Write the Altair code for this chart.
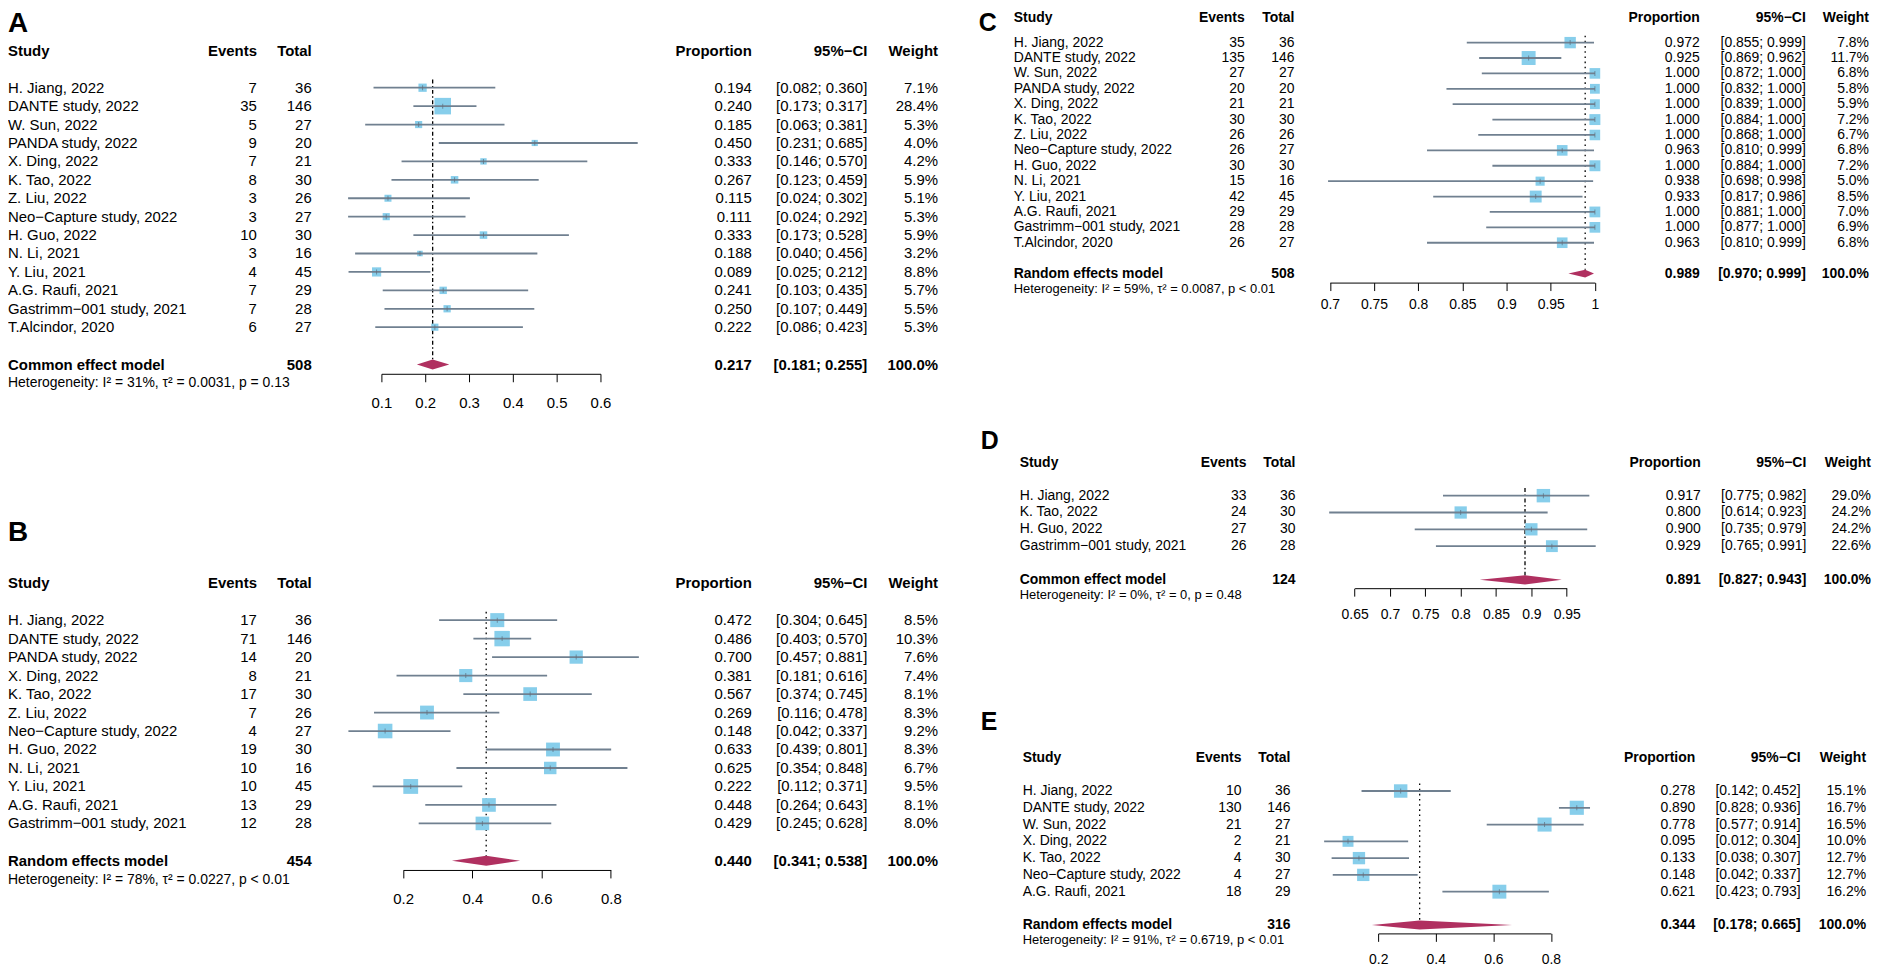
import altair as alt
import pandas as pd

# ---------------- data ----------------
# Panel A
studies_A = ["H. Jiang, 2022", "DANTE study, 2022", "W. Sun, 2022", "PANDA study, 2022",
             "X. Ding, 2022", "K. Tao, 2022", "Z. Liu, 2022", "Neo−Capture study, 2022",
             "H. Guo, 2022", "N. Li, 2021", "Y. Liu, 2021", "A.G. Raufi, 2021",
             "Gastrimm−001 study, 2021", "T.Alcindor, 2020"]
events_A = [7, 35, 5, 9, 7, 8, 3, 3, 10, 3, 4, 7, 7, 6]
total_A = [36, 146, 27, 20, 21, 30, 26, 27, 30, 16, 45, 29, 28, 27]
prop_A = [0.194, 0.240, 0.185, 0.450, 0.333, 0.267, 0.115, 0.111, 0.333, 0.188, 0.089, 0.241, 0.250, 0.222]
lo_A = [0.082, 0.173, 0.063, 0.231, 0.146, 0.123, 0.024, 0.024, 0.173, 0.040, 0.025, 0.103, 0.107, 0.086]
hi_A = [0.360, 0.317, 0.381, 0.685, 0.570, 0.459, 0.302, 0.292, 0.528, 0.456, 0.212, 0.435, 0.449, 0.423]
weight_A = [7.1, 28.4, 5.3, 4.0, 4.2, 5.9, 5.1, 5.3, 5.9, 3.2, 8.8, 5.7, 5.5, 5.3]
summary_A = ["Common effect model", 508, 0.217, 0.181, 0.255]
het_A = "Heterogeneity: I² = 31%, τ² = 0.0031, p = 0.13"
ticks_A = [0.1, 0.2, 0.3, 0.4, 0.5, 0.6]

# Panel B
studies_B = ["H. Jiang, 2022", "DANTE study, 2022", "PANDA study, 2022", "X. Ding, 2022",
             "K. Tao, 2022", "Z. Liu, 2022", "Neo−Capture study, 2022", "H. Guo, 2022",
             "N. Li, 2021", "Y. Liu, 2021", "A.G. Raufi, 2021", "Gastrimm−001 study, 2021"]
events_B = [17, 71, 14, 8, 17, 7, 4, 19, 10, 10, 13, 12]
total_B = [36, 146, 20, 21, 30, 26, 27, 30, 16, 45, 29, 28]
prop_B = [0.472, 0.486, 0.700, 0.381, 0.567, 0.269, 0.148, 0.633, 0.625, 0.222, 0.448, 0.429]
lo_B = [0.304, 0.403, 0.457, 0.181, 0.374, 0.116, 0.042, 0.439, 0.354, 0.112, 0.264, 0.245]
hi_B = [0.645, 0.570, 0.881, 0.616, 0.745, 0.478, 0.337, 0.801, 0.848, 0.371, 0.643, 0.628]
weight_B = [8.5, 10.3, 7.6, 7.4, 8.1, 8.3, 9.2, 8.3, 6.7, 9.5, 8.1, 8.0]
summary_B = ["Random effects model", 454, 0.440, 0.341, 0.538]
het_B = "Heterogeneity: I² = 78%, τ² = 0.0227, p < 0.01"
ticks_B = [0.2, 0.4, 0.6, 0.8]

# Panel C
studies_C = list(studies_A)
events_C = [35, 135, 27, 20, 21, 30, 26, 26, 30, 15, 42, 29, 28, 26]
total_C = [36, 146, 27, 20, 21, 30, 26, 27, 30, 16, 45, 29, 28, 27]
prop_C = [0.972, 0.925, 1.000, 1.000, 1.000, 1.000, 1.000, 0.963, 1.000, 0.938, 0.933, 1.000, 1.000, 0.963]
lo_C = [0.855, 0.869, 0.872, 0.832, 0.839, 0.884, 0.868, 0.810, 0.884, 0.698, 0.817, 0.881, 0.877, 0.810]
hi_C = [0.999, 0.962, 1.000, 1.000, 1.000, 1.000, 1.000, 0.999, 1.000, 0.998, 0.986, 1.000, 1.000, 0.999]
weight_C = [7.8, 11.7, 6.8, 5.8, 5.9, 7.2, 6.7, 6.8, 7.2, 5.0, 8.5, 7.0, 6.9, 6.8]
summary_C = ["Random effects model", 508, 0.989, 0.970, 0.999]
het_C = "Heterogeneity: I² = 59%, τ² = 0.0087, p < 0.01"
ticks_C = [0.7, 0.75, 0.8, 0.85, 0.9, 0.95, 1.0]

# Panel D
studies_D = ["H. Jiang, 2022", "K. Tao, 2022", "H. Guo, 2022", "Gastrimm−001 study, 2021"]
events_D = [33, 24, 27, 26]
total_D = [36, 30, 30, 28]
prop_D = [0.917, 0.800, 0.900, 0.929]
lo_D = [0.775, 0.614, 0.735, 0.765]
hi_D = [0.982, 0.923, 0.979, 0.991]
weight_D = [29.0, 24.2, 24.2, 22.6]
summary_D = ["Common effect model", 124, 0.891, 0.827, 0.943]
het_D = "Heterogeneity: I² = 0%, τ² = 0, p = 0.48"
ticks_D = [0.65, 0.7, 0.75, 0.8, 0.85, 0.9, 0.95]

# Panel E
studies_E = ["H. Jiang, 2022", "DANTE study, 2022", "W. Sun, 2022", "X. Ding, 2022",
             "K. Tao, 2022", "Neo−Capture study, 2022", "A.G. Raufi, 2021"]
events_E = [10, 130, 21, 2, 4, 4, 18]
total_E = [36, 146, 27, 21, 30, 27, 29]
prop_E = [0.278, 0.890, 0.778, 0.095, 0.133, 0.148, 0.621]
lo_E = [0.142, 0.828, 0.577, 0.012, 0.038, 0.042, 0.423]
hi_E = [0.452, 0.936, 0.914, 0.304, 0.307, 0.337, 0.793]
weight_E = [15.1, 16.7, 16.5, 10.0, 12.7, 12.7, 16.2]
summary_E = ["Random effects model", 316, 0.344, 0.178, 0.665]
het_E = "Heterogeneity: I² = 91%, τ² = 0.6719, p < 0.01"
ticks_E = [0.2, 0.4, 0.6, 0.8]

headers = ["Study", "Events", "Total", "Proportion", "95%−CI", "Weight"]

# ---------------- layout / style ----------------
FONT = "Liberation Sans"
M = 8                      # page margin
W, H = 1874, 962
SQ = "#87CEEB"
CIC = "#708090"
INNER = "#5d6d7e"
DIA = "#B03060"

cols_AB = dict(study=8, events=258, total=313, prop=755, ci=871, weight=942)

LA = dict(letter="A", y0=86, step=18.5, header=49.3, summary=364, het=383, axis=373.3,
          lab=(8, 22), fs=15, hfs=14, lfs=28, cols=cols_AB, x0=(0.1, 383), x1=(0.6, 603),
          pad=13.9, side=16.6, hh=5, dash=[4, 2.5, 1.5, 2.5])
LB = dict(letter="B", y0=620.7, step=18.56, header=583.3, summary=862.3, het=881.3, axis=871.6,
          lab=(8, 533.3), fs=15, hfs=14, lfs=28, cols=cols_AB, x0=(0.2, 404.8), x1=(0.8, 613.4),
          pad=13.9, side=15.5, hh=5, dash=[1.6, 3.6])
LC = dict(letter="C", y0=40.7, step=15.46, header=16, summary=272.7, het=288.3, axis=281.7,
          lab=(983, 21), fs=14, hfs=13, lfs=25,
          cols=dict(study=1018, events=1250, total=1300, prop=1707, ci=1813.5, weight=1877),
          x0=(0.7, 1335.5), x1=(1.0, 1601.7), pad=7.5, side=14, hh=4, dash=[1.6, 3.6])
LD = dict(letter="D", y0=495.7, step=16.9, header=463, summary=580.2, het=595.7, axis=588.6,
          lab=(985, 440.5), fs=14, hfs=13, lfs=25,
          cols=dict(study=1024, events=1251.7, total=1301, prop=1708, ci=1814, weight=1879),
          x0=(0.65, 1360.4), x1=(0.95, 1573.4), pad=11.3, side=13.5, hh=4.7, dash=[4, 2.5, 1.5, 2.5])
LE = dict(letter="E", y0=792.3, step=16.85, header=758.8, summary=926.8, het=942.3, axis=935.3,
          lab=(985, 723.3), fs=14, hfs=13, lfs=25,
          cols=dict(study=1027, events=1246.7, total=1296, prop=1702.5, ci=1808.4, weight=1874),
          x0=(0.2, 1384.1), x1=(0.8, 1557.5), pad=11.2, side=14.2, hh=4.5, dash=[1.6, 3.6])


def ci_str(a, b):
    return f"[{a:.3f}; {b:.3f}]"


def panel(study, events, total, prop, lo, hi, weight, summary, het, ticks, L):
    st = L["step"]
    y0 = L["y0"] - M

    def rr(py):
        return (py - L["y0"]) / st

    ys = alt.Scale(domain=[0, 1], range=[y0, y0 + st], nice=False, zero=False)
    (t0, p0), (t1, p1) = L["x0"], L["x1"]
    xs = alt.Scale(domain=[t0, t1], range=[p0 - M, p1 - M], nice=False, zero=False)
    ax = alt.Axis(orient="bottom", offset=(L["axis"] - M) - H, values=ticks, format="~g",
                  tickSize=8, tickColor="black", tickWidth=1, domainColor="black", domainWidth=1,
                  labelPadding=L["pad"], labelFont=FONT, labelFontSize=L["fs"], labelColor="black",
                  labelFlush=False, labelOverlap=False, grid=False, title=None)

    def X(f):
        return alt.X(f, type="quantitative", scale=xs, axis=ax)

    def Y(f):
        return alt.Y(f, type="quantitative", scale=ys, axis=None)

    n = len(study)
    body = pd.DataFrame({
        "r": list(range(n)),
        "study": study,
        "events": [str(v) for v in events],
        "total": [str(v) for v in total],
        "prop": prop, "lo": lo, "hi": hi, "w": weight,
        "prop_s": [f"{v:.3f}" for v in prop],
        "ci_s": [ci_str(a, b) for a, b in zip(lo, hi)],
        "w_s": [f"{v:.1f}%" for v in weight],
    })
    rs = rr(L["summary"])
    lab, tot, est, slo, shi = summary
    summ = pd.DataFrame({"r": [rs], "study": [lab], "total": [str(tot)],
                         "prop_s": [f"{est:.3f}"], "ci_s": [ci_str(slo, shi)], "w_s": ["100.0%"]})
    head = pd.DataFrame({"r": [rr(L["header"])], "study": [headers[0]], "events": [headers[1]],
                         "total": [headers[2]], "prop_s": [headers[3]], "ci_s": [headers[4]],
                         "w_s": [headers[5]]})
    h = L["hh"] / st
    dia = pd.DataFrame({"x": [slo, est, shi], "ya": [rs, rs - h, rs], "yb": [rs, rs + h, rs]})
    ref = pd.DataFrame({"v": [est], "r1": [-0.45], "r2": [rs - 0.25]})
    hetdf = pd.DataFrame({"r": [rr(L["het"])], "t": [het]})
    letdf = pd.DataFrame({"r": [rr(L["lab"][1])], "t": [L["letter"]]})

    wmax = max(weight)
    layers = []
    layers.append(alt.Chart(ref).mark_rule(color="black", strokeWidth=1.3, strokeDash=L["dash"]).encode(
        x=X("v"), y=Y("r1"), y2="r2"))
    layers.append(alt.Chart(body).mark_square(color=SQ, opacity=1, filled=True).encode(
        x=X("prop"), y=Y("r"),
        size=alt.Size("w", type="quantitative",
                      scale=alt.Scale(type="linear", domain=[0, wmax], range=[0, L["side"] ** 2]),
                      legend=None)))
    layers.append(alt.Chart(body).mark_rule(color=CIC, strokeWidth=1.8).encode(
        x=X("lo"), x2="hi", y=Y("r")))
    layers.append(alt.Chart(body).mark_tick(orient="vertical", color=INNER, thickness=1, size=5).encode(
        x=X("prop"), y=Y("r")))
    layers.append(alt.Chart(dia).mark_area(color=DIA, orient="vertical", opacity=1).encode(
        x=X("x"), y=Y("ya"), y2="yb"))

    cols = L["cols"]
    spec = [("study", "study", "left"), ("events", "events", "right"), ("total", "total", "right"),
            ("prop", "prop_s", "right"), ("ci", "ci_s", "right"), ("weight", "w_s", "right")]
    for key, field, align in spec:
        layers.append(alt.Chart(head).mark_text(align=align, baseline="middle", font=FONT,
                                                fontSize=L["fs"], fontWeight="bold", color="black").encode(
            x=alt.value(cols[key] - M), y=Y("r"), text=alt.Text(field, type="nominal")))
        layers.append(alt.Chart(body).mark_text(align=align, baseline="middle", font=FONT,
                                                fontSize=L["fs"], color="black").encode(
            x=alt.value(cols[key] - M), y=Y("r"), text=alt.Text(field, type="nominal")))
        if key != "events":
            layers.append(alt.Chart(summ).mark_text(align=align, baseline="middle", font=FONT,
                                                    fontSize=L["fs"], fontWeight="bold", color="black").encode(
                x=alt.value(cols[key] - M), y=Y("r"), text=alt.Text(field, type="nominal")))
    layers.append(alt.Chart(hetdf).mark_text(align="left", baseline="middle", font=FONT,
                                             fontSize=L["hfs"], color="black").encode(
        x=alt.value(cols["study"] - M), y=Y("r"), text=alt.Text("t", type="nominal")))
    layers.append(alt.Chart(letdf).mark_text(align="left", baseline="middle", font=FONT,
                                             fontSize=L["lfs"], fontWeight="bold", color="black").encode(
        x=alt.value(L["lab"][0] - M), y=Y("r"), text=alt.Text("t", type="nominal")))
    return alt.layer(*layers)


pA = panel(studies_A, events_A, total_A, prop_A, lo_A, hi_A, weight_A, summary_A, het_A, ticks_A, LA)
pB = panel(studies_B, events_B, total_B, prop_B, lo_B, hi_B, weight_B, summary_B, het_B, ticks_B, LB)
pC = panel(studies_C, events_C, total_C, prop_C, lo_C, hi_C, weight_C, summary_C, het_C, ticks_C, LC)
pD = panel(studies_D, events_D, total_D, prop_D, lo_D, hi_D, weight_D, summary_D, het_D, ticks_D, LD)
pE = panel(studies_E, events_E, total_E, prop_E, lo_E, hi_E, weight_E, summary_E, het_E, ticks_E, LE)

chart = alt.layer(pA, pB, pC, pD, pE).resolve_scale(
    x="independent", y="independent", size="independent"
).properties(
    width=W, height=H, autosize=alt.AutoSizeParams(type="none"), padding=0, background="white"
).configure_view(stroke="transparent")

chart.save("out.html", embed_options={"renderer": "svg", "actions": False})
